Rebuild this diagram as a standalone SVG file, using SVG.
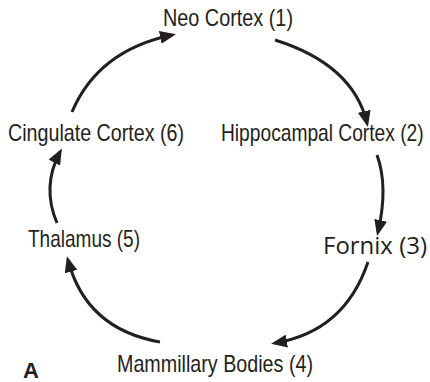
<svg xmlns="http://www.w3.org/2000/svg" width="430" height="382" viewBox="0 0 430 382">
<style>
.lbl{font-family:"Liberation Sans Narrow","Liberation Sans",Arial,sans-serif;font-size:24px;fill:#231f20}
.frx{font-family:"Open Sans","Noto Sans",sans-serif;font-size:23px;fill:#231f20}
.tag{font-family:"Liberation Sans",Arial,sans-serif;font-size:22px;font-weight:bold;fill:#231f20}
.arc{fill:none;stroke:#231f20;stroke-width:3;marker-end:url(#ah)}
</style>
<defs>
<marker id="ah" viewBox="0 0 16 13" refX="12" refY="6.5" markerWidth="16" markerHeight="13" markerUnits="userSpaceOnUse" orient="auto">
<path d="M0,0 L16,6.5 L0,13 z" fill="#231f20"/>
</marker>
</defs>
<rect width="430" height="382" fill="#fff"/>
<g id="connectors">
<path class="arc" d="M72,112 Q98,50.5 172,35"/>
<path class="arc" d="M275,40 Q353,64.5 367,123"/>
<path class="arc" d="M377,155 Q388.5,186.5 378,232"/>
<path class="arc" d="M368,262 Q344.5,331.5 275,343"/>
<path class="arc" d="M160,342 Q86,329 68,260"/>
<path class="arc" d="M57,223 Q41.5,186.5 60,152"/>
</g>
<g id="n1"><text class="lbl" x="163" y="26" textLength="130" lengthAdjust="spacingAndGlyphs">Neo Cortex (1)</text></g>
<g id="n2"><text class="lbl" transform="translate(221,141) scale(0.8,1)" x="0" y="0">Hippocampal Cortex (2)</text></g>
<g id="n3"><text class="frx" x="323" y="254" textLength="104" lengthAdjust="spacingAndGlyphs">Fornix (3)</text></g>
<g id="n4"><text class="lbl" x="117" y="372" textLength="196" lengthAdjust="spacingAndGlyphs">Mammillary Bodies (4)</text></g>
<g id="n5"><text class="lbl" x="28" y="247" textLength="112" lengthAdjust="spacingAndGlyphs">Thalamus (5)</text></g>
<g id="n6"><text class="lbl" x="8" y="141" textLength="176" lengthAdjust="spacingAndGlyphs">Cingulate Cortex (6)</text></g>
<g id="tagA"><text class="tag" x="23" y="378">A</text></g>
</svg>
